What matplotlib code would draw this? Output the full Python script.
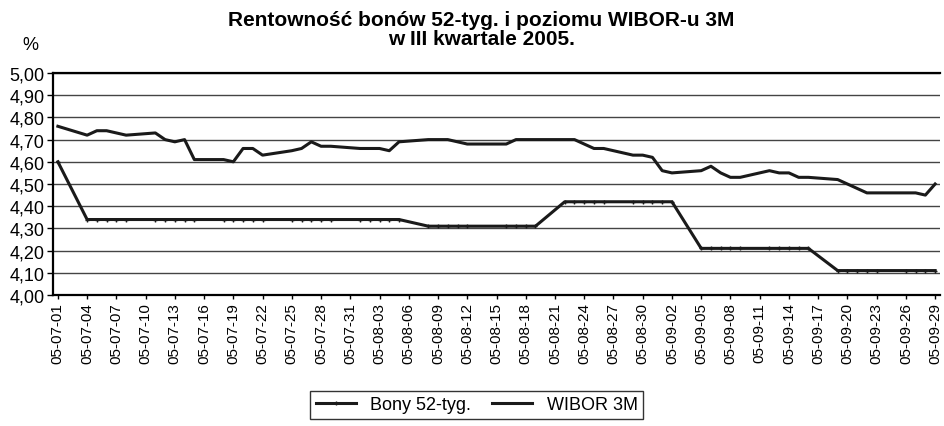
import matplotlib
matplotlib.use("Agg")
import matplotlib.pyplot as plt
import matplotlib.dates as mdates
from matplotlib.ticker import FuncFormatter, MultipleLocator
import pandas as pd

plt.rcParams['font.family'] = ['Liberation Sans', 'DejaVu Sans']

# business days of Q3 2005 (15 Aug was a holiday)
dates = pd.bdate_range('2005-07-01', '2005-09-29').drop(pd.Timestamp('2005-08-15'))

# WIBOR 3M, week by week
wibor = [4.76,
         4.72, 4.74, 4.74, 4.73, 4.72,
         4.73, 4.70, 4.69, 4.70, 4.61,
         4.61, 4.60, 4.66, 4.66, 4.63,
         4.65, 4.66, 4.69, 4.67, 4.67,
         4.66, 4.66, 4.66, 4.65, 4.69,
         4.70, 4.70, 4.70, 4.69, 4.68,
         4.68, 4.70, 4.70, 4.70,
         4.70, 4.70, 4.68, 4.66, 4.66,
         4.63, 4.63, 4.62, 4.56, 4.55,
         4.56, 4.58, 4.55, 4.53, 4.53,
         4.56, 4.55, 4.55, 4.53, 4.53,
         4.52, 4.50, 4.48, 4.46, 4.46,
         4.46, 4.46, 4.45, 4.50]

# 52-week T-bill yield (last auction result)
bony = [4.60,
        4.34, 4.34, 4.34, 4.34, 4.34,
        4.34, 4.34, 4.34, 4.34, 4.34,
        4.34, 4.34, 4.34, 4.34, 4.34,
        4.34, 4.34, 4.34, 4.34, 4.34,
        4.34, 4.34, 4.34, 4.34, 4.34,
        4.31, 4.31, 4.31, 4.31, 4.31,
        4.31, 4.31, 4.31, 4.31,
        4.42, 4.42, 4.42, 4.42, 4.42,
        4.42, 4.42, 4.42, 4.42, 4.42,
        4.21, 4.21, 4.21, 4.21, 4.21,
        4.21, 4.21, 4.21, 4.21, 4.21,
        4.11, 4.11, 4.11, 4.11, 4.11,
        4.11, 4.11, 4.11, 4.11]

fig = plt.figure(figsize=(9.44, 4.27), dpi=100)
ax = fig.add_axes([53/944, 1-296/427, 887/944, 222/427])

ax.plot(dates, bony, color='#1a1a1a', lw=2.2, marker='+', ms=3.5, mew=1,
        mfc='#1a1a1a', mec='#1a1a1a', label='Bony 52-tyg.')
ax.plot(dates, wibor, color='#1a1a1a', lw=2.2, label='WIBOR 3M')

ax.set_ylim(4.0, 5.0)
ax.yaxis.set_major_locator(MultipleLocator(0.1))
ax.yaxis.set_major_formatter(FuncFormatter(lambda v, p: f'{v:.2f}'.replace('.', ',')))
ax.grid(axis='y', color='#444444', lw=1.0)
ax.set_axisbelow(True)

ax.set_xlim(pd.Timestamp('2005-06-30 12:00'), pd.Timestamp('2005-09-29 12:00'))
ax.set_xticks(pd.date_range('2005-07-01', '2005-09-29', freq='3D'))
ax.xaxis.set_major_formatter(mdates.DateFormatter('%y-%m-%d'))

ax.tick_params(axis='x', labelsize=11, rotation=90, length=3, width=1, pad=2)
ax.tick_params(axis='y', labelsize=13, length=4, width=1, pad=2)

for s in ['left', 'bottom', 'top']:
    ax.spines[s].set_linewidth(1.6)
    ax.spines[s].set_color('black')
ax.spines['right'].set_visible(False)

fig.text(0.51, 0.975, 'Rentowność bonów 52-tyg. i poziomu WIBOR-u 3M\nw III kwartale 2005.',
         ha='center', va='top', fontsize=15, fontweight='bold', linespacing=1.0)
fig.text(30/944, 1-45/427, '%', ha='center', va='center', fontsize=13)

leg = fig.legend(loc='upper center', bbox_to_anchor=(0.505, 1-392/427), ncol=2,
                 fontsize=13, frameon=True, fancybox=False, edgecolor='black',
                 handlelength=2.2, columnspacing=1.2, borderpad=0.3, borderaxespad=0)
leg.get_frame().set_linewidth(1.0)

fig.savefig('out.png', dpi=100)
